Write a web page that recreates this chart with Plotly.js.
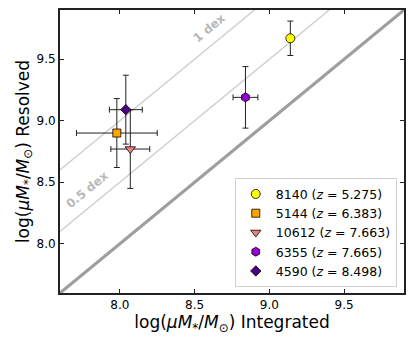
<!DOCTYPE html>
<html>
<head>
<meta charset="utf-8">
<script src="https://cdn.plot.ly/plotly-3.0.1.min.js"></script>
<style>
  html, body { margin: 0; padding: 0; background: white; }
  #chart { width: 415px; height: 347px; }
</style>
</head>
<body>
<div id="chart"></div>
<script>
// galaxy IDs, redshifts and masses (log M*, integrated vs resolved)
const IDS = ["8140", "5144", "10612", "6355", "4590"];
const REDSHIFTS = ["5.275", "6.383", "7.663", "7.665", "8.498"];
const M_INT = [9.14, 7.98, 8.07, 8.84, 8.04];
const M_INT_ERR = [0, 0.27, 0.13, 0.083, 0.11];
const M_RES = [9.67, 8.90, 8.77, 9.19, 9.09];
const M_RES_ERR = [0.14, 0.28, 0.32, 0.25, 0.28];

const SYMBOLS = ["circle", "square", "triangle-down", "hexagon", "diamond"];
const SIZES = [9, 8, 9, 9, 8];
const COLORS = ["#ffff00", "#ffa500", "#f08080", "#9400d3", "#4b0082"];

// reference lines: one-to-one and offsets
const AXIS_RANGE = [7.6, 9.9];
const OFFSETS = [0, 0.5, 1];
const OFFSET_LABELS = ["", "0.5 dex", "1 dex"];
const LABEL_X = [null, 7.78, 8.6];
const LABEL_SHIFT = [null, 0.16, 0.15];

const FONT = "DejaVu Sans, sans-serif";

const traces = [];

OFFSETS.forEach((off) => {
  traces.push({
    x: AXIS_RANGE,
    y: AXIS_RANGE.map((v) => v + off),
    mode: "lines",
    type: "scatter",
    line: off === 0 ? { color: "#9e9e9e", width: 3.2 } : { color: "#cfcfcf", width: 1.4 },
    hoverinfo: "skip",
    showlegend: false,
  });
});

IDS.forEach((id, i) => {
  traces.push({
    x: [M_INT[i]],
    y: [M_RES[i]],
    name: `${id} (<i>z</i> = ${REDSHIFTS[i]})`,
    mode: "markers",
    type: "scatter",
    error_x: { type: "data", array: [M_INT_ERR[i]], visible: M_INT_ERR[i] > 0, color: "#222", thickness: 1, width: 3 },
    error_y: { type: "data", array: [M_RES_ERR[i]], visible: true, color: "#222", thickness: 1, width: 3 },
    marker: {
      symbol: SYMBOLS[i],
      size: SIZES[i],
      color: COLORS[i],
      line: { color: "#000", width: 0.8 },
    },
  });
});

const annotations = [];
OFFSETS.forEach((off, i) => {
  if (!OFFSET_LABELS[i]) return;
  annotations.push({
    x: LABEL_X[i],
    y: LABEL_X[i] + off + LABEL_SHIFT[i],
    xref: "x",
    yref: "y",
    text: `<b>${OFFSET_LABELS[i]}</b>`,
    showarrow: false,
    textangle: -39.3,
    font: { family: FONT, size: 12, color: "#b8b8b8" },
  });
});

const axisCommon = {
  range: AXIS_RANGE,
  showgrid: false,
  zeroline: false,
  showline: true,
  linecolor: "#222",
  linewidth: 2,
  mirror: "ticks",
  ticks: "inside",
  ticklen: 4,
  tickwidth: 1,
  tickcolor: "#222",
  tickvals: [8.0, 8.5, 9.0, 9.5],
  ticktext: ["8.0", "8.5", "9.0", "9.5"],
  tickfont: { family: FONT, size: 12, color: "#000" },
};

const layout = {
  width: 415,
  height: 347,
  margin: { l: 60, r: 11, t: 10, b: 54 },
  paper_bgcolor: "white",
  plot_bgcolor: "white",
  font: { family: FONT, color: "#000" },
  xaxis: {
    ...axisCommon,
    title: {
      text: "log(<i>μM</i><sub>*</sub>/<i>M</i><sub>⊙</sub>) Integrated",
      font: { family: FONT, size: 17 },
      standoff: 3,
    },
  },
  yaxis: {
    ...axisCommon,
    title: {
      text: "log(<i>μM</i><sub>*</sub>/<i>M</i><sub>⊙</sub>) Resolved",
      font: { family: FONT, size: 17 },
      standoff: 3,
    },
  },
  legend: {
    x: 0.979,
    y: 0.02,
    xanchor: "right",
    yanchor: "bottom",
    bgcolor: "white",
    bordercolor: "#d0d0d0",
    borderwidth: 1,
    font: { family: FONT, size: 12.5 },
    tracegroupgap: 0,
  },
  showlegend: true,
  annotations,
};

Plotly.newPlot("chart", traces, layout, { displayModeBar: false, staticPlot: true });
</script>
</body>
</html>
